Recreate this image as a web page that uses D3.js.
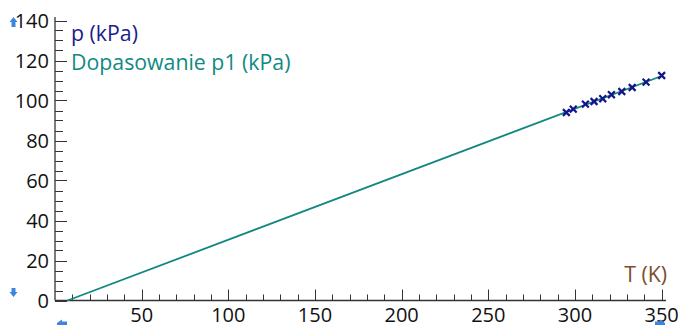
<!DOCTYPE html>
<html>
<head>
<meta charset="utf-8">
<script src="https://cdn.jsdelivr.net/npm/d3@7"></script>
<style>
  html, body { margin: 0; padding: 0; background: #fff; }
  svg { display: block; }
  text { font-family: "Open Sans", "Noto Sans", sans-serif; }
</style>
</head>
<body>
<svg id="chart" width="681" height="325"></svg>
<script>
// Measured temperature (K) and pressure (kPa)
const temperatureK = [295, 299, 306, 311, 316, 321, 327, 333, 341, 350];
const pressureKPa  = [94.0, 95.7, 98.2, 99.5, 100.9, 102.9, 104.5, 106.5, 109.2, 112.5];

// Axis ticks
const xMajorTicks = [50, 100, 150, 200, 250, 300, 350];
const xMinorTicks = d3.range(10, 351, 10).filter(v => v % 50 !== 0);
const yMajorTicks = [0, 20, 40, 60, 80, 100, 120, 140];
const yMinorTicks = d3.range(5, 141, 5).filter(v => v % 20 !== 0);

// Legend / axis titles
const seriesLabel = "p (kPa)";
const fitLabel = "Dopasowanie p1 (kPa)";
const xTitle = "T (K)";

const svg = d3.select("#chart");

const x = d3.scaleLinear().domain([0, 352.5]).range([55, 666]);
const y = d3.scaleLinear().domain([0, 140]).range([300.5, 20.5]);

// Least-squares line through the measurements
const n = temperatureK.length;
const mx = d3.mean(temperatureK), my = d3.mean(pressureKPa);
let sxy = 0, sxx = 0;
for (let i = 0; i < n; i++) {
  sxy += (temperatureK[i] - mx) * (pressureKPa[i] - my);
  sxx += (temperatureK[i] - mx) ** 2;
}
const slope = sxy / sxx;
const intercept = my - slope * mx;
const tZero = -intercept / slope;
const fitPoints = [tZero, d3.max(temperatureK)].map(t => [t, slope * t + intercept]);

const axisColor = "#333";
const tickFont = 20;
const labelFont = 21.3;

// X axis: baseline with ticks pointing up
const gx = svg.append("g").attr("transform", `translate(0,${y(0)})`);
gx.append("line").attr("x1", x(0)).attr("x2", x(352.5)).attr("stroke", axisColor).attr("stroke-width", 1.3);
gx.selectAll(".xmin").data(xMinorTicks).join("line")
  .attr("x1", d => Math.round(x(d)) + 0.5).attr("x2", d => Math.round(x(d)) + 0.5)
  .attr("y1", 0).attr("y2", -6).attr("stroke", axisColor);
gx.selectAll(".xmaj").data(xMajorTicks).join("line")
  .attr("x1", d => Math.round(x(d)) + 0.5).attr("x2", d => Math.round(x(d)) + 0.5)
  .attr("y1", 0).attr("y2", -11).attr("stroke", axisColor);
gx.selectAll(".xlab").data(xMajorTicks).join("text")
  .attr("x", d => x(d)).attr("y", 21.5)
  .attr("text-anchor", "middle").attr("font-size", tickFont).attr("fill", "#111")
  .text(d => d);

// Y axis: vertical line with ticks pointing right
const gy = svg.append("g").attr("transform", `translate(${x(0)},0)`);
gy.append("line").attr("y1", y(0)).attr("y2", 17).attr("stroke", axisColor).attr("stroke-width", 1.3);
gy.selectAll(".ymin").data(yMinorTicks).join("line")
  .attr("y1", d => Math.round(y(d)) + 0.5).attr("y2", d => Math.round(y(d)) + 0.5)
  .attr("x1", 0).attr("x2", 8).attr("stroke", axisColor);
gy.selectAll(".ymaj").data(yMajorTicks).join("line")
  .attr("y1", d => Math.round(y(d)) + 0.5).attr("y2", d => Math.round(y(d)) + 0.5)
  .attr("x1", 0).attr("x2", 12).attr("stroke", axisColor);
gy.selectAll(".ylab").data(yMajorTicks).join("text")
  .attr("x", -6).attr("y", d => y(d) + 7.5)
  .attr("text-anchor", "end").attr("font-size", tickFont).attr("fill", "#111")
  .text(d => d);

// Fitted line
svg.append("path")
  .datum(fitPoints)
  .attr("d", d3.line().x(d => x(d[0])).y(d => y(d[1])))
  .attr("fill", "none").attr("stroke", "#11887f").attr("stroke-width", 1.8);

// Measurement markers (crosses)
const s = 3.4;
svg.selectAll(".pt").data(temperatureK.map((t, i) => [t, pressureKPa[i]])).join("path")
  .attr("d", d => {
    const cx = x(d[0]), cy = y(d[1]);
    return `M${cx - s},${cy - s}L${cx + s},${cy + s}M${cx - s},${cy + s}L${cx + s},${cy - s}`;
  })
  .attr("stroke", "#14148c").attr("stroke-width", 2.2).attr("fill", "none");

// Legend and axis title
svg.append("text").attr("x", 71).attr("y", 41).attr("font-size", labelFont).attr("fill", "#1c1c8a").text(seriesLabel);
svg.append("text").attr("x", 71).attr("y", 70).attr("font-size", labelFont).attr("fill", "#0f8a82").text(fitLabel);
svg.append("text").attr("x", 667).attr("y", 282).attr("text-anchor", "end").attr("font-size", labelFont).attr("fill", "#7a4e2d").text(xTitle);

// Small blue scroll arrows at axis ends
const arrowColor = "#3a86e0";
svg.append("path").attr("d", "M9.5,22 L13.5,17 L17.5,22 L15.5,22 L15.5,27 L11.5,27 L11.5,22 Z").attr("fill", arrowColor);
svg.append("path").attr("d", "M11.5,288 L15.5,288 L15.5,292 L17.5,292 L13.5,297 L9.5,292 L11.5,292 Z").attr("fill", arrowColor);
svg.append("path").attr("d", "M57,323 L62,319.5 L62,321.5 L67,321.5 L67,325 L57,325 Z").attr("fill", arrowColor);
svg.append("path").attr("d", "M665,323 L660,319.5 L660,321.5 L655,321.5 L655,325 L665,325 Z").attr("fill", arrowColor);
</script>
</body>
</html>
